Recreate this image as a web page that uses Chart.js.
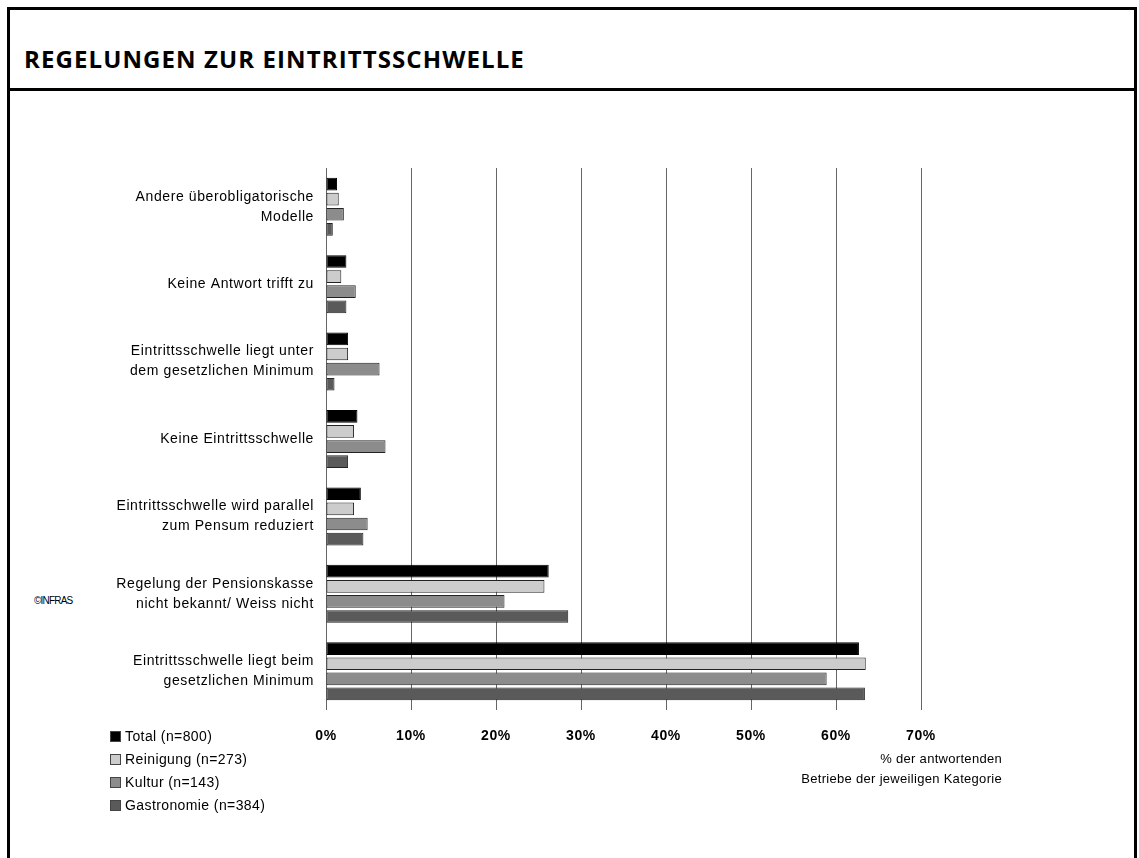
<!DOCTYPE html>
<html>
<head>
<meta charset="utf-8">
<script src="https://cdn.jsdelivr.net/npm/chart.js@4"></script>
<style>
  body { margin: 0; background: #fff; }
  #frame { position: absolute; left: 7px; top: 7px; width: 1124px; height: 900px; border: 3px solid #000; }
  #titleBar { position: absolute; left: 7px; top: 7px; width: 1124px; height: 78px; border: 3px solid #000; }
  #title { position: absolute; left: 24px; top: 42px; font-family: "Open Sans", sans-serif; font-weight: bold; font-size: 24px; color: #000; letter-spacing: 1.1px; }
  #copy { position: absolute; left: 34px; top: 595px; font-family: "Liberation Sans", Arial, sans-serif; font-size: 10px; letter-spacing: -0.8px; color: #000; }
  #wrap { position: absolute; left: 0; top: 0; width: 1139px; height: 858px; }
</style>
</head>
<body>
<div id="frame"></div>
<div id="titleBar"></div>
<div id="title">REGELUNGEN ZUR EINTRITTSSCHWELLE</div>
<div id="copy">©INFRAS</div>
<div id="wrap"><canvas id="barChart" width="1139" height="858"></canvas></div>
<script>
// categories, top to bottom
const categories = [
  ['Andere überobligatorische', 'Modelle'],
  'Keine Antwort trifft zu',
  ['Eintrittsschwelle liegt unter', 'dem gesetzlichen Minimum'],
  'Keine Eintrittsschwelle',
  ['Eintrittsschwelle wird parallel', 'zum Pensum reduziert'],
  ['Regelung der Pensionskasse', 'nicht bekannt/ Weiss nicht'],
  ['Eintrittsschwelle liegt beim', 'gesetzlichen Minimum']
];

// values in % of responding firms
const total = [1.3, 2.4, 2.6, 3.7, 4.1, 26.2, 62.7];
const reinigung = [1.5, 1.8, 2.6, 3.3, 3.3, 25.7, 63.5];
const kultur = [2.1, 3.5, 6.3, 7.0, 4.9, 21.0, 58.9];
const gastronomie = [0.8, 2.4, 1.0, 2.6, 4.4, 28.5, 63.4];

const seriesNames = ['Total (n=800)', 'Reinigung (n=273)', 'Kultur (n=143)', 'Gastronomie (n=384)'];
const seriesColors = ['#000000', '#cccccc', '#8c8c8c', '#5a5a5a'];

const tickValues = [0, 10, 20, 30, 40, 50, 60, 70];
const axisTitle = ['% der antwortenden', 'Betriebe der jeweiligen Kategorie'];

const labelFont = '"Liberation Sans", Arial, sans-serif';

// the original text is a bit spaced out
const spacing = {
  id: 'spacing',
  beforeLayout(chart) { chart.ctx.letterSpacing = '0.6px'; },
  beforeDraw(chart) { chart.ctx.letterSpacing = '0.6px'; }
};

// legend + axis title drawn by hand at the bottom
const bottomText = {
  id: 'bottomText',
  afterDraw(chart) {
    const c = chart.ctx;
    c.save();
    c.font = '14px ' + labelFont;
    c.textBaseline = 'middle';
    c.letterSpacing = '0.4px';
    seriesNames.forEach((name, i) => {
      const y = 737 + i * 23;
      c.fillStyle = seriesColors[i];
      c.fillRect(110.5, y - 5.5, 10, 10);
      c.strokeStyle = '#444';
      c.lineWidth = 1;
      c.strokeRect(110.5, y - 5.5, 10, 10);
      c.fillStyle = '#000';
      c.fillText(name, 125, y);
    });
    c.font = '13px ' + labelFont;
    c.textAlign = 'right';
    c.letterSpacing = '0.3px';
    c.fillText(axisTitle[0], 1002, 759);
    c.fillText(axisTitle[1], 1002, 779);
    c.restore();
  }
};

const ctx = document.getElementById('barChart').getContext('2d');
const barChart = new Chart(ctx, {
  type: 'bar',
  data: {
    labels: categories,
    datasets: [total, reinigung, kultur, gastronomie].map((d, i) => ({
      label: seriesNames[i],
      data: d,
      backgroundColor: seriesColors[i],
      borderColor: i === 0 ? '#000' : '#222',
      borderWidth: 1,
      borderSkipped: false,
      categoryPercentage: 0.78,
      barPercentage: 0.84
    }))
  },
  options: {
    indexAxis: 'y',
    responsive: false,
    animation: false,
    layout: { padding: { left: 0, right: 218, top: 168, bottom: 0 } },
    plugins: {
      legend: { display: false },
      tooltip: { enabled: false }
    },
    scales: {
      x: {
        min: 0,
        max: 70,
        afterFit: (scale) => { scale.height = 148; },
        afterBuildTicks: (scale) => { scale.ticks = tickValues.map(v => ({ value: v })); },
        grid: { color: '#666', lineWidth: 1, drawTicks: false },
        border: { display: false },
        ticks: {
          padding: 18,
          color: '#000',
          font: { family: labelFont, size: 14, weight: 'bold' },
          callback: (v) => v + '%'
        }
      },
      y: {
        afterFit: (scale) => { scale.width = 326; },
        grid: { display: false, drawTicks: false },
        border: { display: false },
        ticks: {
          padding: 12,
          color: '#000',
          font: { family: labelFont, size: 14, lineHeight: 1.43 }
        }
      }
    }
  },
  plugins: [spacing, bottomText]
});
</script>
</body>
</html>
